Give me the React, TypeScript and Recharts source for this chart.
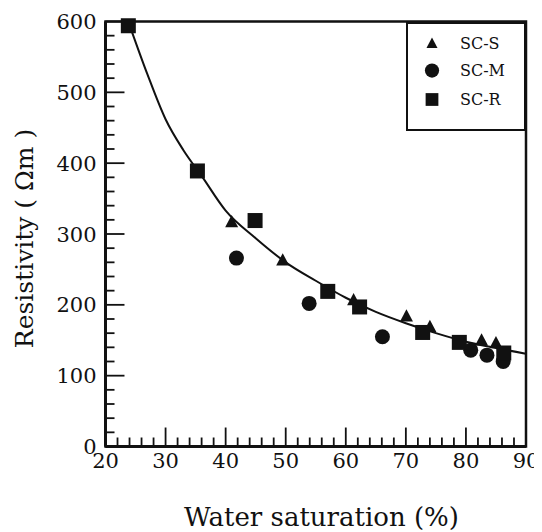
import { ComposedChart, Scatter, Line, XAxis, YAxis, Legend, ReferenceArea, Label } from 'recharts';

const FONT = '"DejaVu Serif", "Liberation Serif", serif';
const INK = '#111';

// water saturation (%) and resistivity (Ωm) for each sample group
const satS = [41.0, 49.5, 61.3, 70.1, 74.0, 82.6, 85.0];
const resS = [317, 263, 207, 184, 169, 150, 146];
const satM = [41.8, 53.9, 66.1, 80.8, 83.5, 86.2];
const resM = [266, 202, 155, 136, 129, 120];
const satR = [23.8, 35.3, 44.9, 57.0, 62.3, 72.8, 78.9, 86.3];
const resR = [594, 389, 319, 219, 197, 161, 147, 132];

// fitted trend curve
const fitSat = [24, 27, 30, 33, 36, 40, 45, 50, 55, 60, 65, 70, 75, 80, 85, 90];
const fitRes = [595, 525, 462, 418, 382, 333, 294, 260, 234, 210, 190, 174, 160, 148, 139, 131];

const xLabels = [20, 30, 40, 50, 60, 70, 80, 90];
const yLabels = [0, 100, 200, 300, 400, 500, 600];

// minor ticks every 2 % / 20 Ωm, labels only on the majors
const xTicks = Array.from({ length: 36 }, (_, i) => 20 + i * 2);
const yTicks = Array.from({ length: 31 }, (_, i) => i * 20);

// inward tick lengths in data units, [major, minor]
const X_TICK_LEN = [26.8, 12.7]; // measured along resistivity
const Y_TICK_LEN = [3.16, 1.5]; // measured along saturation

type Kind = 'triangle' | 'circle' | 'square';

const toPoints = (xs: number[], ys: number[]) => xs.map((x, i) => ({ x, y: ys[i] }));

const series: { name: string; kind: Kind; data: { x: number; y: number }[] }[] = [
  { name: 'SC-S', kind: 'triangle', data: toPoints(satS, resS) },
  { name: 'SC-M', kind: 'circle', data: toPoints(satM, resM) },
  { name: 'SC-R', kind: 'square', data: toPoints(satR, resR) },
];
const fitData = toPoints(fitSat, fitRes);

// each tick mark as a two-point segment on the frame edge
const tickSegments = [
  ...xTicks.map((v) => [
    { x: v, y: 0 },
    { x: v, y: X_TICK_LEN[xLabels.includes(v) ? 0 : 1] },
  ]),
  ...yTicks.map((v) => [
    { x: 20, y: v },
    { x: 20 + Y_TICK_LEN[yLabels.includes(v) ? 0 : 1], y: v },
  ]),
];

function Marker({ kind, cx, cy, s = 1 }: { kind: Kind; cx: number; cy: number; s?: number }) {
  if (kind === 'triangle') {
    const h = 7 * s;
    const w = 6.5 * s;
    return <polygon points={`${cx},${cy - h} ${cx - w},${cy + h * 0.75} ${cx + w},${cy + h * 0.75}`} fill={INK} />;
  }
  if (kind === 'circle') return <circle cx={cx} cy={cy} r={7.5 * s} fill={INK} />;
  const half = 7.5 * s;
  return <rect x={cx - half} y={cy - half} width={half * 2} height={half * 2} fill={INK} />;
}

const XTick = ({ x, y, payload }: any) =>
  xLabels.includes(payload.value) ? (
    <text x={x} y={y + 21} textAnchor="middle" fontFamily={FONT} fontSize={21} fill={INK}>
      {payload.value}
    </text>
  ) : null;

const YTick = ({ x, y, payload }: any) =>
  yLabels.includes(payload.value) ? (
    <text x={x - 9} y={y} dy="0.36em" textAnchor="end" fontFamily={FONT} fontSize={21} fill={INK}>
      {payload.value}
    </text>
  ) : null;

const LegendBox = () => (
  <svg width={116} height={105} style={{ display: 'block' }}>
    {series.map((s, i) => {
      const cy = [19.5, 46.5, 75.5][i];
      return (
        <g key={s.name}>
          <Marker kind={s.kind} cx={24} cy={cy} s={s.kind === 'circle' ? 0.95 : 0.85} />
          <text x={52} y={cy} dy="0.36em" fontFamily={FONT} fontSize={16} fill={INK}>
            {s.name}
          </text>
        </g>
      );
    })}
  </svg>
);

export default function App() {
  return (
    <div style={{ width: 534, height: 524, background: '#fff' }}>
      <ComposedChart width={534} height={524} margin={{ top: 13.5, right: 16, bottom: 0, left: 0 }}>
        <XAxis
          dataKey="x"
          type="number"
          domain={[20, 90]}
          ticks={xTicks}
          interval={0}
          height={85.5}
          tickSize={0}
          tickMargin={0}
          tickLine={false}
          axisLine={{ stroke: INK, strokeWidth: 3 }}
          tick={XTick}
        >
          <Label
            content={() => (
              <text x={313.5} y={518} textAnchor="middle" fontFamily={FONT} fontSize={26} fill={INK}>
                Water saturation (%)
              </text>
            )}
          />
        </XAxis>
        <YAxis
          dataKey="y"
          type="number"
          domain={[0, 600]}
          ticks={yTicks}
          interval={0}
          width={97.5}
          tickSize={0}
          tickMargin={0}
          tickLine={false}
          axisLine={{ stroke: INK, strokeWidth: 3 }}
          tick={YTick}
        >
          <Label
            content={() => (
              <text
                x={25}
                y={230.5}
                transform="rotate(-90 25 230.5)"
                textAnchor="middle"
                fontFamily={FONT}
                fontSize={25}
                fill={INK}
              >
                Resistivity ( Ωm )
              </text>
            )}
          />
        </YAxis>
        <ReferenceArea x1={20} x2={90} y1={0} y2={600} fill="none" stroke={INK} strokeWidth={2.5} />
        {tickSegments.map((seg, i) => (
          <Line
            key={`tick${i}`}
            data={seg}
            dataKey="y"
            type="linear"
            stroke={INK}
            strokeWidth={1.8}
            dot={false}
            activeDot={false}
            legendType="none"
            isAnimationActive={false}
          />
        ))}
        <Line
          data={fitData}
          dataKey="y"
          type="monotone"
          stroke={INK}
          strokeWidth={2}
          dot={false}
          legendType="none"
          isAnimationActive={false}
        />
        {series.map((s) => (
          <Scatter
            key={s.name}
            name={s.name}
            data={s.data}
            dataKey="y"
            isAnimationActive={false}
            shape={(p: any) => <Marker kind={s.kind} cx={p.cx} cy={p.cy} />}
          />
        ))}
        <Legend
          layout="horizontal"
          verticalAlign="middle"
          content={LegendBox}
          wrapperStyle={{
            position: 'absolute',
            left: 398,
            top: 13.5,
            width: 120,
            height: 109,
            border: `2px solid ${INK}`,
            boxSizing: 'border-box',
            background: '#fff',
          }}
        />
      </ComposedChart>
    </div>
  );
}
